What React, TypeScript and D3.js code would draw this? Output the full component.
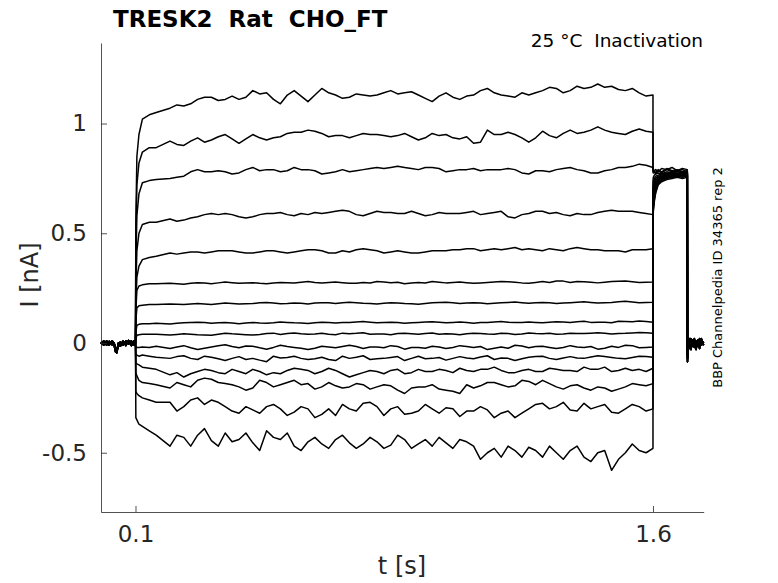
import { useRef, useEffect } from "react";
import * as d3 from "d3";

// time grids (s)
const PRE_T = [0, 0.008, 0.016, 0.024, 0.032, 0.038, 0.042, 0.046, 0.05, 0.056, 0.064, 0.072, 0.08, 0.088, 0.096, 0.0999];
const PULSE_T = [
  0.1, 0.101, 0.104, 0.11, 0.12, 0.14, 0.16,
  0.2, 0.24, 0.28, 0.32, 0.36, 0.4, 0.44, 0.48, 0.52, 0.56,
  0.6, 0.64, 0.68, 0.72, 0.76, 0.8, 0.84, 0.88, 0.92, 0.96,
  1.0, 1.04, 1.08, 1.12, 1.16, 1.2, 1.24, 1.28, 1.32, 1.36,
  1.4, 1.44, 1.48, 1.52, 1.56, 1.6,
];
const MID_T = [
  0.22, 0.26, 0.3, 0.34, 0.38, 0.42, 0.46, 0.5, 0.54, 0.58,
  0.62, 0.66, 0.7, 0.74, 0.78, 0.82, 0.86, 0.9, 0.94, 0.98,
  1.02, 1.06, 1.1, 1.14, 1.18, 1.22, 1.26, 1.3, 1.34, 1.38,
  1.42, 1.46, 1.5, 1.54, 1.58,
];
const TAIL_T = [1.6, 1.601, 1.604, 1.608, 1.615, 1.625, 1.64, 1.655, 1.67, 1.685, 1.6995];
const POST_T = [1.7, 1.701, 1.703, 1.706, 1.71, 1.715, 1.72, 1.725, 1.73, 1.735, 1.74, 1.747];

// holding level before the step (nA)
const preA = [0.005, -0.01, 0.01, -0.005, 0.005, -0.01, -0.04, -0.045, -0.01, 0.005, -0.01, 0.01, -0.005, 0.01, -0.01, 0.0];
const preB = [-0.005, 0.01, -0.01, 0.008, -0.008, -0.005, -0.03, -0.035, -0.005, -0.01, 0.01, -0.012, 0.012, -0.01, 0.008, 0.0];
const preC = [0.0, -0.005, 0.005, -0.01, 0.01, 0.0, -0.02, -0.04, 0.0, -0.015, 0.005, -0.005, 0.01, -0.012, 0.01, 0.0];

// currents during the step, one array per sweep (nA), on PULSE_T
const pulse01 = [0, 0.55, 0.85, 0.95, 1.02, 1.04, 1.05, 1.07, 1.08, 1.11, 1.12, 1.11, 1.11, 1.15, 1.14, 1.09, 1.15, 1.10, 1.16, 1.13, 1.12, 1.13, 1.13, 1.15, 1.14, 1.13, 1.10, 1.14, 1.11, 1.13, 1.16, 1.13, 1.12, 1.13, 1.15, 1.16, 1.15, 1.16, 1.18, 1.17, 1.15, 1.14, 1.13];
const pulse02 = [0, 0.45, 0.72, 0.82, 0.87, 0.89, 0.89, 0.92, 0.90, 0.935, 0.925, 0.95, 0.91, 0.95, 0.925, 0.94, 0.96, 0.97, 0.955, 0.945, 0.935, 0.955, 0.95, 0.94, 0.955, 0.925, 0.955, 0.95, 0.93, 0.91, 0.97, 0.95, 0.95, 0.915, 0.965, 0.935, 0.97, 0.96, 0.985, 0.96, 0.95, 0.975, 0.96];
const pulse03 = [0, 0.35, 0.58, 0.68, 0.73, 0.74, 0.745, 0.75, 0.76, 0.79, 0.78, 0.78, 0.775, 0.80, 0.79, 0.78, 0.80, 0.79, 0.77, 0.78, 0.78, 0.79, 0.80, 0.80, 0.80, 0.79, 0.80, 0.78, 0.79, 0.795, 0.79, 0.79, 0.79, 0.77, 0.785, 0.79, 0.80, 0.785, 0.775, 0.79, 0.80, 0.815, 0.80];
const pulse04 = [0, 0.25, 0.42, 0.50, 0.54, 0.55, 0.55, 0.565, 0.56, 0.575, 0.59, 0.59, 0.575, 0.575, 0.59, 0.595, 0.58, 0.585, 0.59, 0.60, 0.60, 0.58, 0.60, 0.595, 0.59, 0.59, 0.585, 0.59, 0.59, 0.60, 0.59, 0.60, 0.57, 0.59, 0.60, 0.595, 0.58, 0.585, 0.595, 0.605, 0.60, 0.595, 0.585];
const pulse05 = [0, 0.18, 0.30, 0.35, 0.38, 0.39, 0.395, 0.41, 0.41, 0.415, 0.415, 0.42, 0.415, 0.41, 0.42, 0.415, 0.415, 0.425, 0.42, 0.41, 0.415, 0.43, 0.42, 0.415, 0.415, 0.41, 0.42, 0.42, 0.425, 0.43, 0.425, 0.425, 0.435, 0.43, 0.42, 0.425, 0.43, 0.43, 0.425, 0.42, 0.415, 0.425, 0.43];
const pulse06 = [0, 0.15, 0.24, 0.26, 0.265, 0.27, 0.27, 0.272, 0.268, 0.275, 0.27, 0.278, 0.272, 0.275, 0.27, 0.276, 0.273, 0.28, 0.274, 0.278, 0.272, 0.276, 0.28, 0.275, 0.27, 0.276, 0.28, 0.274, 0.278, 0.272, 0.276, 0.28, 0.277, 0.272, 0.28, 0.283, 0.276, 0.279, 0.274, 0.28, 0.282, 0.276, 0.278];
const pulse07 = [0, 0.10, 0.16, 0.17, 0.172, 0.175, 0.175, 0.178, 0.175, 0.18, 0.176, 0.182, 0.178, 0.18, 0.185, 0.179, 0.182, 0.178, 0.184, 0.18, 0.186, 0.181, 0.178, 0.184, 0.18, 0.177, 0.183, 0.186, 0.18, 0.184, 0.179, 0.183, 0.187, 0.181, 0.185, 0.18, 0.184, 0.188, 0.182, 0.185, 0.19, 0.184, 0.186];
const pulse08 = [0, 0.05, 0.08, 0.085, 0.088, 0.088, 0.09, 0.087, 0.092, 0.095, 0.09, 0.093, 0.088, 0.094, 0.09, 0.096, 0.092, 0.089, 0.095, 0.091, 0.094, 0.098, 0.092, 0.095, 0.09, 0.094, 0.097, 0.092, 0.096, 0.09, 0.094, 0.098, 0.093, 0.096, 0.092, 0.097, 0.094, 0.099, 0.095, 0.092, 0.098, 0.1, 0.095];
const pulse09 = [0, 0.02, 0.035, 0.038, 0.04, 0.04, 0.04, 0.036, 0.042, 0.038, 0.035, 0.045, 0.04, 0.036, 0.043, 0.039, 0.046, 0.04, 0.044, 0.038, 0.042, 0.047, 0.041, 0.038, 0.044, 0.04, 0.046, 0.042, 0.038, 0.045, 0.041, 0.044, 0.039, 0.046, 0.042, 0.04, 0.045, 0.043, 0.047, 0.041, 0.044, 0.048, 0.045];
const pulse10 = [0, -0.015, -0.02, -0.02, -0.018, -0.02, -0.015, -0.025, -0.012, -0.03, -0.018, -0.008, -0.022, -0.015, -0.028, -0.01, -0.02, -0.03, -0.015, -0.022, -0.01, -0.025, -0.018, -0.012, -0.028, -0.02, -0.015, -0.025, -0.012, -0.02, -0.03, -0.018, -0.01, -0.022, -0.015, -0.025, -0.012, -0.02, -0.028, -0.015, -0.01, -0.022, -0.018];
const pulse11 = [0, -0.05, -0.055, -0.06, -0.055, -0.06, -0.065, -0.07, -0.058, -0.075, -0.065, -0.08, -0.062, -0.07, -0.085, -0.068, -0.06, -0.075, -0.065, -0.08, -0.07, -0.058, -0.072, -0.066, -0.08, -0.06, -0.07, -0.078, -0.062, -0.072, -0.058, -0.068, -0.08, -0.065, -0.06, -0.075, -0.062, -0.07, -0.058, -0.066, -0.072, -0.06, -0.065];
const pulse12 = [0, -0.09, -0.095, -0.10, -0.11, -0.115, -0.12, -0.145, -0.155, -0.13, -0.125, -0.14, -0.13, -0.12, -0.145, -0.14, -0.115, -0.125, -0.13, -0.125, -0.155, -0.135, -0.13, -0.125, -0.14, -0.12, -0.13, -0.125, -0.115, -0.13, -0.12, -0.125, -0.135, -0.12, -0.13, -0.12, -0.125, -0.11, -0.12, -0.13, -0.115, -0.12, -0.115];
const pulse13 = [0, -0.135, -0.15, -0.17, -0.18, -0.185, -0.19, -0.205, -0.19, -0.17, -0.165, -0.185, -0.20, -0.205, -0.18, -0.19, -0.17, -0.185, -0.20, -0.195, -0.20, -0.19, -0.20, -0.195, -0.23, -0.20, -0.19, -0.215, -0.23, -0.205, -0.18, -0.19, -0.195, -0.175, -0.17, -0.20, -0.195, -0.205, -0.20, -0.22, -0.20, -0.19, -0.185];
const pulse14 = [0, -0.22, -0.23, -0.24, -0.25, -0.26, -0.27, -0.27, -0.29, -0.25, -0.26, -0.29, -0.32, -0.305, -0.29, -0.30, -0.315, -0.30, -0.325, -0.33, -0.30, -0.275, -0.29, -0.30, -0.325, -0.31, -0.30, -0.295, -0.335, -0.31, -0.305, -0.32, -0.34, -0.30, -0.275, -0.29, -0.305, -0.275, -0.29, -0.315, -0.30, -0.29, -0.30];
const pulse15 = [0, -0.34, -0.35, -0.37, -0.38, -0.40, -0.42, -0.47, -0.43, -0.42, -0.445, -0.41, -0.44, -0.455, -0.40, -0.44, -0.47, -0.45, -0.46, -0.44, -0.455, -0.46, -0.45, -0.465, -0.44, -0.46, -0.47, -0.455, -0.44, -0.47, -0.50, -0.52, -0.49, -0.475, -0.52, -0.50, -0.49, -0.52, -0.50, -0.58, -0.50, -0.49, -0.48];

// in-between readings on MID_T (nA)
const mid01 = [1.085, 1.09, 1.12, 1.105, 1.125, 1.12, 1.135, 1.11, 1.13, 1.125, 1.13, 1.14, 1.115, 1.135, 1.125, 1.14, 1.135, 1.145, 1.115, 1.125, 1.12, 1.125, 1.15, 1.14, 1.125, 1.14, 1.14, 1.165, 1.14, 1.17, 1.165, 1.165, 1.155, 1.16, 1.125];
const mid02 = [0.905, 0.92, 0.915, 0.94, 0.93, 0.93, 0.935, 0.935, 0.955, 0.96, 0.965, 0.94, 0.945, 0.945, 0.95, 0.945, 0.945, 0.94, 0.935, 0.945, 0.935, 0.94, 0.915, 0.95, 0.96, 0.935, 0.935, 0.945, 0.955, 0.955, 0.97, 0.97, 0.955, 0.965, 0.965];
const mid03 = [0.755, 0.78, 0.78, 0.785, 0.77, 0.79, 0.785, 0.79, 0.785, 0.79, 0.785, 0.775, 0.79, 0.785, 0.795, 0.795, 0.805, 0.795, 0.8, 0.795, 0.785, 0.79, 0.785, 0.79, 0.795, 0.775, 0.785, 0.78, 0.795, 0.79, 0.775, 0.785, 0.8, 0.805, 0.81];
const mid04 = [0.555, 0.57, 0.585, 0.585, 0.585, 0.57, 0.585, 0.59, 0.585, 0.59, 0.595, 0.595, 0.605, 0.585, 0.59, 0.595, 0.59, 0.6, 0.58, 0.595, 0.59, 0.595, 0.585, 0.595, 0.575, 0.585, 0.6, 0.59, 0.585, 0.59, 0.585, 0.6, 0.6, 0.6, 0.59];
const mid05 = [0.405, 0.415, 0.41, 0.42, 0.42, 0.41, 0.415, 0.42, 0.41, 0.42, 0.425, 0.41, 0.42, 0.425, 0.425, 0.41, 0.42, 0.41, 0.415, 0.42, 0.425, 0.43, 0.42, 0.43, 0.43, 0.425, 0.425, 0.43, 0.42, 0.435, 0.425, 0.42, 0.42, 0.425, 0.425];
const mid06 = [0.27, 0.272, 0.273, 0.274, 0.275, 0.274, 0.272, 0.273, 0.275, 0.277, 0.276, 0.276, 0.275, 0.272, 0.273, 0.278, 0.277, 0.273, 0.273, 0.277, 0.276, 0.275, 0.274, 0.278, 0.279, 0.274, 0.276, 0.276, 0.282, 0.28, 0.277, 0.277, 0.281, 0.279, 0.277];
const mid07 = [0.177, 0.178, 0.178, 0.179, 0.18, 0.179, 0.183, 0.182, 0.18, 0.181, 0.182, 0.183, 0.183, 0.184, 0.18, 0.181, 0.182, 0.179, 0.18, 0.185, 0.183, 0.182, 0.182, 0.181, 0.185, 0.184, 0.183, 0.183, 0.182, 0.186, 0.185, 0.184, 0.188, 0.187, 0.185];
const mid08 = [0.09, 0.094, 0.093, 0.092, 0.091, 0.091, 0.091, 0.092, 0.094, 0.091, 0.092, 0.093, 0.093, 0.096, 0.095, 0.094, 0.093, 0.092, 0.096, 0.095, 0.094, 0.093, 0.093, 0.096, 0.095, 0.094, 0.094, 0.095, 0.096, 0.097, 0.094, 0.095, 0.099, 0.097, 0.098];
const mid09 = [0.039, 0.04, 0.037, 0.04, 0.042, 0.038, 0.039, 0.045, 0.043, 0.042, 0.041, 0.04, 0.045, 0.044, 0.04, 0.041, 0.043, 0.042, 0.043, 0.04, 0.041, 0.042, 0.043, 0.04, 0.043, 0.041, 0.043, 0.044, 0.041, 0.043, 0.045, 0.044, 0.043, 0.046, 0.047];
const mid10 = [-0.018, -0.022, -0.024, -0.012, -0.016, -0.014, -0.022, -0.02, -0.016, -0.024, -0.024, -0.018, -0.016, -0.016, -0.018, -0.022, -0.016, -0.02, -0.024, -0.018, -0.02, -0.016, -0.016, -0.024, -0.024, -0.014, -0.016, -0.02, -0.02, -0.018, -0.016, -0.024, -0.02, -0.012, -0.02];
const mid11 = [-0.062, -0.07, -0.06, -0.072, -0.07, -0.075, -0.078, -0.06, -0.066, -0.07, -0.072, -0.075, -0.06, -0.065, -0.075, -0.07, -0.062, -0.07, -0.072, -0.066, -0.07, -0.068, -0.064, -0.075, -0.07, -0.072, -0.062, -0.07, -0.068, -0.068, -0.064, -0.062, -0.07, -0.066, -0.062];
const mid12 = [-0.135, -0.14, -0.12, -0.135, -0.12, -0.14, -0.13, -0.135, -0.125, -0.12, -0.14, -0.115, -0.14, -0.145, -0.125, -0.14, -0.12, -0.135, -0.13, -0.12, -0.135, -0.125, -0.12, -0.11, -0.135, -0.125, -0.13, -0.115, -0.125, -0.13, -0.12, -0.11, -0.125, -0.125, -0.13];
const mid13 = [-0.18, -0.2, -0.16, -0.18, -0.19, -0.215, -0.17, -0.2, -0.18, -0.19, -0.21, -0.18, -0.205, -0.185, -0.21, -0.19, -0.215, -0.205, -0.2, -0.21, -0.22, -0.19, -0.195, -0.18, -0.2, -0.17, -0.19, -0.185, -0.21, -0.19, -0.215, -0.205, -0.21, -0.185, -0.195];
const mid14 = [-0.31, -0.26, -0.28, -0.27, -0.31, -0.29, -0.32, -0.28, -0.33, -0.29, -0.34, -0.3, -0.28, -0.31, -0.27, -0.33, -0.29, -0.32, -0.28, -0.32, -0.3, -0.31, -0.29, -0.34, -0.31, -0.32, -0.28, -0.3, -0.27, -0.31, -0.3, -0.28, -0.32, -0.28, -0.31];
const mid15 = [-0.42, -0.47, -0.39, -0.47, -0.45, -0.41, -0.49, -0.43, -0.41, -0.49, -0.43, -0.48, -0.42, -0.48, -0.43, -0.48, -0.42, -0.48, -0.44, -0.43, -0.48, -0.45, -0.53, -0.48, -0.47, -0.52, -0.49, -0.47, -0.53, -0.47, -0.54, -0.49, -0.53, -0.46, -0.5];

// currents after the step back (nA)
const tail01 = [0.80, 0.79, 0.785, 0.79, 0.78, 0.795, 0.79, 0.80, 0.785, 0.795, 0.79];
const tail02 = [0.79, 0.78, 0.785, 0.775, 0.79, 0.78, 0.795, 0.785, 0.79, 0.78, 0.785];
const tail03 = [0.78, 0.775, 0.78, 0.77, 0.785, 0.775, 0.79, 0.78, 0.785, 0.79, 0.78];
const tail04 = [0.74, 0.755, 0.765, 0.77, 0.775, 0.77, 0.78, 0.775, 0.785, 0.78, 0.775];
const tail05 = [0.71, 0.73, 0.75, 0.76, 0.765, 0.77, 0.775, 0.77, 0.78, 0.775, 0.78];
const tail06 = [0.68, 0.71, 0.735, 0.75, 0.76, 0.765, 0.77, 0.775, 0.77, 0.78, 0.775];
const tail07 = [0.66, 0.69, 0.72, 0.74, 0.755, 0.76, 0.77, 0.765, 0.775, 0.77, 0.775];
const tail08 = [0.64, 0.67, 0.705, 0.73, 0.75, 0.76, 0.765, 0.77, 0.765, 0.775, 0.77];
const tail09 = [0.63, 0.66, 0.70, 0.725, 0.745, 0.755, 0.765, 0.76, 0.77, 0.765, 0.775];
const tail10 = [0.62, 0.65, 0.69, 0.72, 0.74, 0.755, 0.76, 0.765, 0.76, 0.77, 0.765];
const tail11 = [0.61, 0.64, 0.68, 0.715, 0.74, 0.75, 0.755, 0.765, 0.76, 0.765, 0.77];
const tail12 = [0.60, 0.63, 0.675, 0.71, 0.735, 0.75, 0.76, 0.755, 0.765, 0.76, 0.765];
const tail13 = [0.59, 0.62, 0.665, 0.70, 0.73, 0.745, 0.755, 0.76, 0.755, 0.765, 0.76];
const tail14 = [0.575, 0.61, 0.655, 0.69, 0.725, 0.74, 0.75, 0.755, 0.76, 0.755, 0.76];
const tail15 = [0.56, 0.60, 0.645, 0.685, 0.72, 0.735, 0.745, 0.75, 0.755, 0.75, 0.755];

// back at holding level
const postA = [-0.07, -0.04, -0.02, 0.01, -0.01, 0.015, -0.02, 0.01, -0.015, 0.02, -0.01, 0.005];
const postB = [-0.05, -0.02, 0.005, -0.025, 0.02, -0.015, 0.01, -0.03, 0.015, -0.01, 0.02, -0.01];
const postC = [-0.085, -0.03, -0.01, 0.02, -0.03, 0.005, 0.02, -0.02, 0.01, -0.025, 0.01, 0.0];

const PULSES = [pulse01, pulse02, pulse03, pulse04, pulse05, pulse06, pulse07, pulse08, pulse09, pulse10, pulse11, pulse12, pulse13, pulse14, pulse15];
const MIDS = [mid01, mid02, mid03, mid04, mid05, mid06, mid07, mid08, mid09, mid10, mid11, mid12, mid13, mid14, mid15];
const TAILS = [tail01, tail02, tail03, tail04, tail05, tail06, tail07, tail08, tail09, tail10, tail11, tail12, tail13, tail14, tail15];
const PRES = [preA, preB, preC];
const POSTS = [postA, postB, postC];

const X_TICKS = [0.1, 1.6];
const Y_TICKS = [-0.5, 0, 0.5, 1];

const TITLE = "TRESK2  Rat  CHO_FT";
const SUBTITLE = "25 °C  Inactivation";
const SIDE_NOTE = "BBP Channelpedia ID 34365 rep 2";

export default function App() {
  const svgRef = useRef<SVGSVGElement>(null);
  const width = 778;
  const height = 583;

  useEffect(() => {
    if (!svgRef.current) return;
    const svg = d3.select(svgRef.current);
    svg.selectAll("*").remove();

    const font = "DejaVu Sans, sans-serif";
    const axisColor = "#262626";

    const x = d3.scaleLinear().domain([0, 1.747]).range([101, 703.7]);
    const y = d3.scaleLinear().domain([-0.77, 1.367]).range([512, 43]);

    svg.append("rect").attr("width", width).attr("height", height).attr("fill", "white");

    // sweeps
    const line = d3
      .line<[number, number]>()
      .x((d) => x(d[0]))
      .y((d) => y(d[1]));

    const sweeps = PULSES.map((p, i) => {
      const pre = PRES[i % 3];
      const post = POSTS[i % 3];
      const step: [number, number][] = [];
      PULSE_T.forEach((t, k) => step.push([t, p[k]]));
      MID_T.forEach((t, k) => step.push([t, MIDS[i][k]]));
      step.sort((a, b) => a[0] - b[0]);
      const pts: [number, number][] = [];
      PRE_T.forEach((t, k) => pts.push([t, pre[k]]));
      pts.push(...step);
      TAIL_T.forEach((t, k) => pts.push([t, TAILS[i][k]]));
      POST_T.forEach((t, k) => pts.push([t, post[k]]));
      return pts;
    });

    svg
      .append("g")
      .selectAll("path")
      .data(sweeps)
      .enter()
      .append("path")
      .attr("d", (d) => line(d))
      .attr("fill", "none")
      .attr("stroke", "black")
      .attr("stroke-width", 1.5)
      .attr("stroke-linejoin", "round");

    // axes
    const xAxis = svg
      .append("g")
      .attr("transform", `translate(0, 512)`)
      .call(d3.axisBottom(x).tickValues(X_TICKS).tickSizeInner(-6).tickSizeOuter(0).tickFormat((d) => String(d)) as any);
    xAxis.select(".domain").attr("stroke", axisColor).attr("stroke-width", 0.8);
    xAxis.selectAll(".tick line").attr("stroke", axisColor).attr("stroke-width", 0.8);
    xAxis
      .selectAll(".tick text")
      .attr("y", 14)
      .attr("dy", "0.71em")
      .attr("font-family", font)
      .attr("font-size", 23)
      .attr("fill", axisColor);

    const yAxis = svg
      .append("g")
      .attr("transform", `translate(101, 0)`)
      .call(d3.axisLeft(y).tickValues(Y_TICKS).tickSizeInner(-6).tickSizeOuter(0).tickFormat((d) => String(d)) as any);
    yAxis.select(".domain").attr("stroke", axisColor).attr("stroke-width", 0.8);
    yAxis.selectAll(".tick line").attr("stroke", axisColor).attr("stroke-width", 0.8);
    yAxis
      .selectAll(".tick text")
      .attr("x", -14)
      .attr("font-family", font)
      .attr("font-size", 23)
      .attr("fill", axisColor);

    // labels
    svg
      .append("text")
      .attr("x", 402)
      .attr("y", 574)
      .attr("text-anchor", "middle")
      .attr("font-family", font)
      .attr("font-size", 24)
      .attr("fill", axisColor)
      .text("t [s]");

    svg
      .append("text")
      .attr("transform", "translate(38, 275) rotate(-90)")
      .attr("text-anchor", "middle")
      .attr("font-family", font)
      .attr("font-size", 24)
      .attr("fill", axisColor)
      .text("I [nA]");

    svg
      .append("text")
      .attr("x", 113)
      .attr("y", 27)
      .attr("font-family", font)
      .attr("font-weight", "bold")
      .attr("font-size", 23)
      .attr("fill", "black")
      .style("white-space", "pre")
      .text(TITLE);

    svg
      .append("text")
      .attr("x", 703)
      .attr("y", 47)
      .attr("text-anchor", "end")
      .attr("font-family", font)
      .attr("font-size", 18.5)
      .attr("fill", "black")
      .style("white-space", "pre")
      .text(SUBTITLE);

    svg
      .append("text")
      .attr("transform", "translate(722, 277.5) rotate(-90)")
      .attr("text-anchor", "middle")
      .attr("font-family", font)
      .attr("font-size", 13)
      .attr("fill", "black")
      .text(SIDE_NOTE);
  }, []);

  return (
    <div style={{ position: "absolute", left: 0, top: 0, width, height }}>
      <svg ref={svgRef} width={width} height={height} viewBox={`0 0 ${width} ${height}`} />
    </div>
  );
}
